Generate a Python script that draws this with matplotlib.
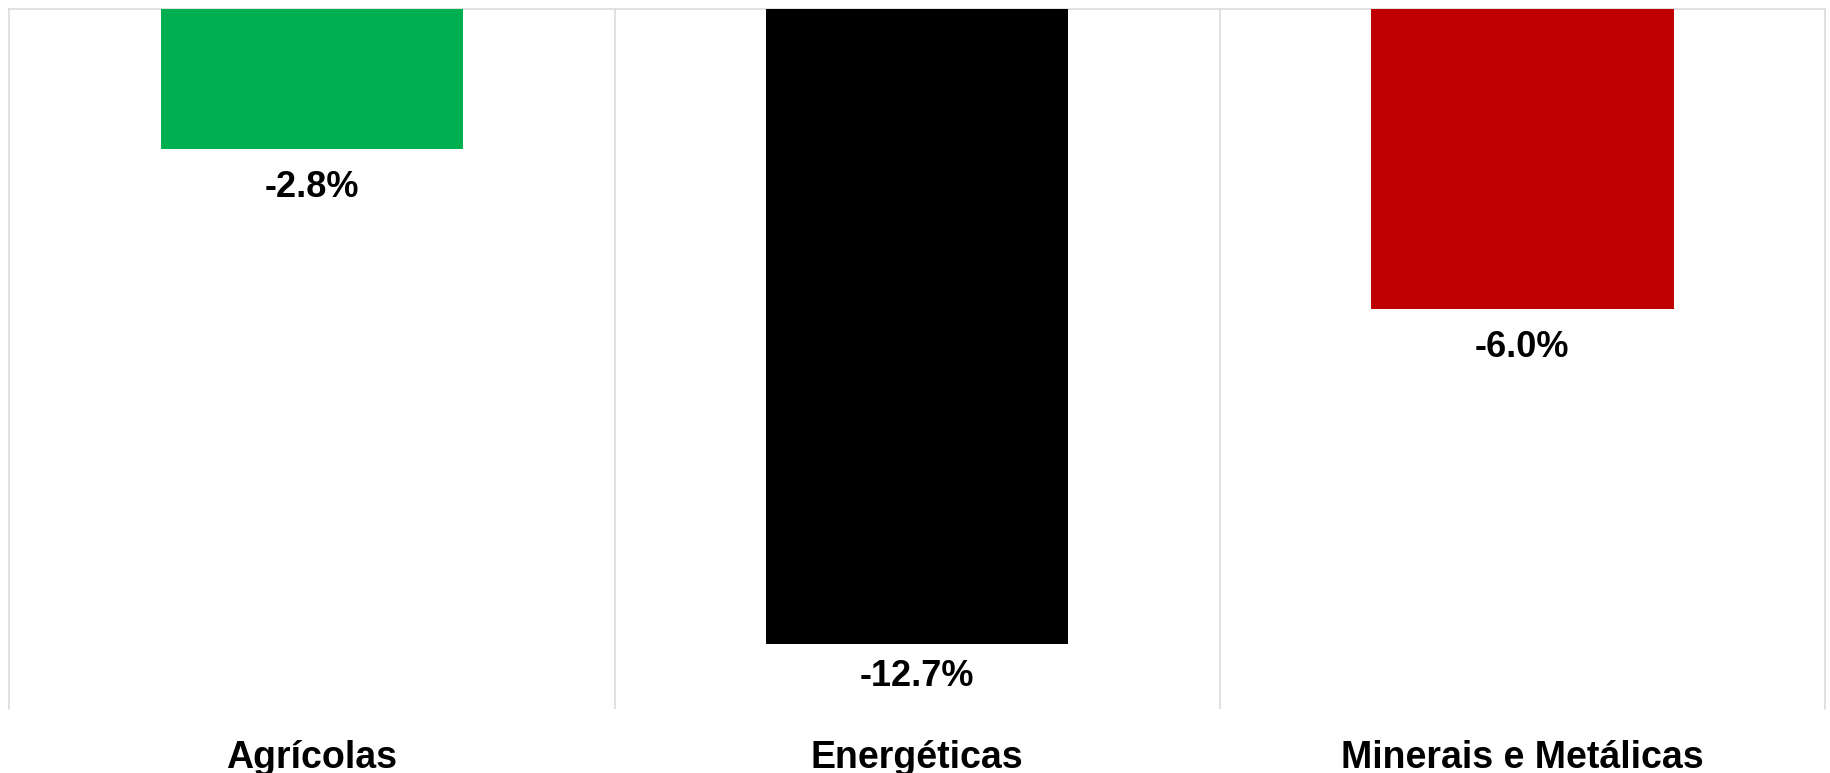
import matplotlib
matplotlib.use("Agg")
import matplotlib.pyplot as plt

categories = ["Agrícolas", "Energéticas", "Minerais e Metálicas"]
values = [-2.8, -12.7, -6.0]
colors = ["#00B050", "#000000", "#C00000"]

plt.rcParams["font.family"] = ["Liberation Sans", "DejaVu Sans"]

fig = plt.figure(figsize=(18.31, 7.73), dpi=100)
ax = fig.add_axes([0.0051, 0.0828, 0.9916, 0.9052])

x = list(range(len(categories)))
ax.bar(x, values, width=0.5, color=colors, zorder=3)

ymin, ymax = -14.0, 0.0
ax.set_ylim(ymin, ymax)
ax.set_xlim(-0.5, len(categories) - 0.5)

grid_color = "#D9D9D9"
for b in [i + 0.5 for i in x[:-1]]:
    ax.axvline(b, color=grid_color, linewidth=1.1, zorder=1)

for side in ["left", "right", "top"]:
    ax.spines[side].set_color(grid_color)
    ax.spines[side].set_linewidth(1.1)
ax.spines["bottom"].set_visible(False)

ax.set_yticks([])
ax.set_xticks(x)
ax.set_xticklabels(categories, fontsize=27, fontweight="bold")
ax.tick_params(axis="x", length=0, pad=22)

# value labels below each bar end, kept inside the plot area
gap = 0.42
floor = ymin + 1.0
for xi, v in zip(x, values):
    y = max(v - gap, floor)
    ax.text(xi, y, f"{v:.1f}%", ha="center", va="top",
            fontsize=26, fontweight="bold", color="black", zorder=4)

fig.savefig("out.png", dpi=100, facecolor="white")
